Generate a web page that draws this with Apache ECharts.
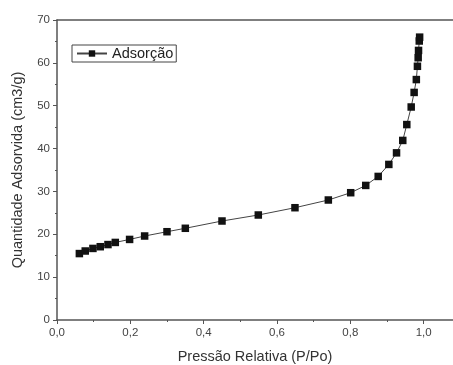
<!DOCTYPE html>
<html lang="pt">
<head>
	<meta charset="UTF-8">
	<title>Isoterma de adsorção</title>
	<script src="https://cdn.jsdelivr.net/npm/echarts@6/dist/echarts.min.js"></script>
	<style>
		html, body { margin: 0; padding: 0; background: #fff; }
		#chart { width: 453px; height: 365px; }
	</style>
</head>
<body>
<div id="chart"></div>
<script>
	// pressão relativa (P/Po)
	var pressao = [0.061, 0.077, 0.098, 0.118, 0.139, 0.159, 0.198, 0.239, 0.300, 0.350,
		0.450, 0.549, 0.649, 0.740, 0.801, 0.842, 0.876, 0.905, 0.926, 0.943,
		0.954, 0.966, 0.974, 0.980, 0.983, 0.985, 0.986, 0.988, 0.989];
	// quantidade adsorvida (cm3/g)
	var adsorvida = [15.5, 16.1, 16.7, 17.1, 17.6, 18.1, 18.8, 19.6, 20.6, 21.4,
		23.1, 24.5, 26.2, 28.0, 29.7, 31.4, 33.5, 36.3, 39.0, 41.9,
		45.6, 49.7, 53.1, 56.1, 59.2, 61.2, 62.9, 65.1, 66.0];
	var serieNome = 'Adsorção';
	var tituloX = 'Pressão Relativa (P/Po)';
	var tituloY = 'Quantidade Adsorvida (cm3/g)';

	var pontos = [];
	for (var i = 0; i < pressao.length; i++) {
		pontos.push([pressao[i], adsorvida[i]]);
	}

	var fonte = '"Liberation Sans", Arial, sans-serif';
	var corEixo = '#555';

	var chart = echarts.init(document.getElementById('chart'));
	chart.setOption({
		animation: false,
		textStyle: { fontFamily: fonte },
		grid: { left: 57, top: 20, right: 0, bottom: 45, outerBoundsMode: 'none' },
		legend: {
			data: [serieNome],
			left: 72, top: 45,
			padding: [1, 3, 1, 4],
			itemWidth: 30, itemHeight: 8, itemGap: 4,
			borderColor: '#444', borderWidth: 1, borderRadius: 0,
			textStyle: { fontSize: 14.5, color: '#222', fontFamily: fonte }
		},
		xAxis: [{
			type: 'value',
			min: 0, max: 1.08, interval: 0.2,
			name: tituloX,
			nameLocation: 'middle', nameGap: 29,
			nameTextStyle: { fontSize: 14.5, color: '#333' },
			axisLine: { lineStyle: { color: corEixo, width: 1.5 } },
			axisTick: { show: true, length: 4, lineStyle: { color: corEixo } },
			minorTick: { show: true, splitNumber: 2, length: 2, lineStyle: { color: corEixo } },
			axisLabel: {
				fontSize: 11.5, color: '#444', margin: 7, showMaxLabel: false,
				formatter: function (v) { return v.toFixed(1).replace('.', ','); }
			},
			splitLine: { show: false }
		}, {
			type: 'value', position: 'top',
			min: 0, max: 1.08,
			axisLine: { show: true, onZero: false, lineStyle: { color: corEixo, width: 1.5 } },
			axisTick: { show: false }, axisLabel: { show: false }, splitLine: { show: false }
		}],
		yAxis: {
			type: 'value',
			min: 0, max: 70, interval: 10,
			name: tituloY,
			nameLocation: 'middle', nameGap: 32,
			nameTextStyle: { fontSize: 14.5, color: '#333' },
			axisLine: { show: true, lineStyle: { color: corEixo, width: 1.5 } },
			axisTick: { show: true, length: 4, lineStyle: { color: corEixo } },
			minorTick: { show: true, splitNumber: 2, length: 2, lineStyle: { color: corEixo } },
			axisLabel: { fontSize: 11.5, color: '#444', margin: 7 },
			splitLine: { show: false }
		},
		series: [{
			name: serieNome,
			type: 'line',
			data: pontos,
			symbol: 'rect',
			symbolSize: 7.5,
			itemStyle: { color: '#111' },
			lineStyle: { color: '#444', width: 1 }
		}]
	});
</script>
</body>
</html>
